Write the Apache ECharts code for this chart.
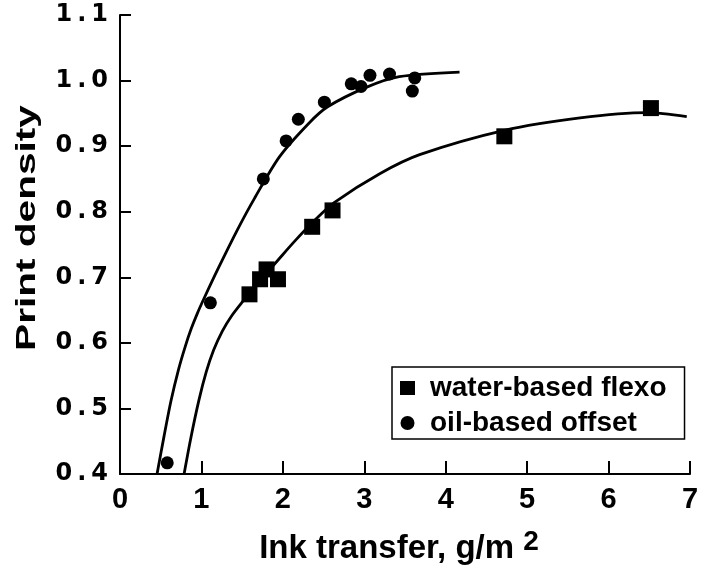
<!DOCTYPE html>
<html>
<head>
<meta charset="utf-8">
<script src="https://cdn.jsdelivr.net/npm/echarts@6/dist/echarts.min.js"></script>
<style>
html,body{margin:0;padding:0;background:#fff;}
#c{width:708px;height:568px;}
</style>
</head>
<body>
<div id="c"></div>
<script>
// Measured data points
const flexoX = [1.59, 1.72, 1.80, 1.94, 2.36, 2.61, 4.72, 6.52];
const flexoY = [0.674, 0.697, 0.712, 0.697, 0.777, 0.802, 0.915, 0.958];
const offsetX = [0.58, 1.11, 1.76, 2.04, 2.19, 2.51, 2.84, 2.96, 3.07, 3.31, 3.59, 3.62];
const offsetY = [0.417, 0.661, 0.850, 0.908, 0.941, 0.967, 0.995, 0.991, 1.008, 1.010, 0.984, 1.004];
// Fitted curves as drawn in the picture
const flexoCurveX = [0.787, 0.87, 0.97, 1.06, 1.15, 1.257, 1.37, 1.50, 1.60, 1.80, 1.96, 2.16, 2.40, 2.63, 3.19, 3.68, 4.72, 5.65, 6.47, 6.96];
const flexoCurveY = [0.400, 0.455, 0.513, 0.556, 0.589, 0.618, 0.641, 0.662, 0.677, 0.706, 0.729, 0.757, 0.788, 0.814, 0.858, 0.887, 0.924, 0.943, 0.951, 0.945];
const offsetCurveX = [0.455, 0.54, 0.627, 0.72, 0.80, 0.873, 0.95, 1.033, 1.20, 1.44, 1.65, 1.96, 2.32, 2.55, 3.03, 3.43, 4.17];
const offsetCurveY = [0.400, 0.457, 0.512, 0.560, 0.594, 0.621, 0.645, 0.668, 0.712, 0.772, 0.820, 0.884, 0.935, 0.960, 0.990, 1.006, 1.013];
const seriesNames = ['water-based flexo', 'oil-based offset'];
const xTitle = 'Ink transfer, g/m ';
const xTitleSup = '2';
const yTitle = 'Print density';

const zip = (a, b) => a.map((v, i) => [v, b[i]]);
const FONT = '"Liberation Sans", Arial, sans-serif';
const WIDE = '"DejaVu Sans", sans-serif';

const chart = echarts.init(document.getElementById('c'), null, {renderer: 'canvas'});
chart.setOption({
  animation: false,
  backgroundColor: '#fff',
  grid: {left: 120, right: 18, top: 15, bottom: 94, containLabel: false, outerBoundsMode: 'none'},
  graphic: [{
    type: 'text', x: 27, y: 228, rotation: Math.PI / 2, scaleX: 1.45, scaleY: 1,
    style: {text: yTitle, fill: '#000', font: 'bold 28px "Liberation Sans", Arial, sans-serif',
      align: 'center', verticalAlign: 'middle'}
  }],
  xAxis: {
    type: 'value', min: 0, max: 7, interval: 1,
    name: '{a|' + xTitle + '}{s|' + xTitleSup + '}',
    nameLocation: 'middle', nameGap: 54,
    nameTextStyle: {
      padding: [0, 12, 0, 0],
      rich: {
        a: {fontFamily: FONT, fontWeight: 'bold', fontSize: 33, color: '#000'},
        s: {fontFamily: FONT, fontWeight: 'bold', fontSize: 28, color: '#000', verticalAlign: 'bottom', padding: [0,0,14,0]}
      }
    },
    axisLine: {lineStyle: {color: '#000', width: 2}},
    axisTick: {inside: true, length: 13, lineStyle: {color: '#000', width: 2}},
    axisLabel: {fontFamily: FONT, fontWeight: 'bold', fontSize: 29, color: '#000', margin: 11},
    splitLine: {show: false}
  },
  yAxis: {
    type: 'value', min: 0.4, max: 1.1, interval: 0.1,
    axisLine: {lineStyle: {color: '#000', width: 2}},
    axisTick: {inside: true, length: 11, lineStyle: {color: '#000', width: 2}},
    axisLabel: {
      margin: 10,
      formatter: v => v.toFixed(1).split('').map(c => c === '.' ? '{p|.}' : '{d|' + c + '}').join(''),
      rich: {
        d: {fontFamily: WIDE, fontWeight: 'bold', fontSize: 24, color: '#000', padding: [0, 2, 0, 2]},
        p: {fontFamily: WIDE, fontWeight: 'bold', fontSize: 24, color: '#000', padding: [0, 3, 0, 3]}
      }
    },
    splitLine: {show: false}
  },
  legend: {
    data: [
      {name: seriesNames[0], icon: 'rect'},
      {name: seriesNames[1], icon: 'circle'}
    ],
    orient: 'vertical', left: 392, top: 367,
    itemWidth: 15, itemHeight: 14, itemGap: 7,
    padding: [7, 18, 2, 8],
    borderColor: '#000', borderWidth: 1.5, borderRadius: 0,
    formatter: n => '{t|' + n + '}',
    textStyle: {
      rich: {t: {fontFamily: FONT, fontWeight: 'bold', fontSize: 28, color: '#000', padding: [0, 0, 0, 10]}}
    }
  },
  series: [
    {type: 'line', data: zip(flexoCurveX, flexoCurveY), smooth: 0.3, showSymbol: false,
      lineStyle: {color: '#000', width: 2.8}, silent: true, z: 2},
    {type: 'line', data: zip(offsetCurveX, offsetCurveY), smooth: 0.3, showSymbol: false,
      lineStyle: {color: '#000', width: 2.8}, silent: true, z: 2},
    {name: seriesNames[0], type: 'scatter', data: zip(flexoX, flexoY), symbol: 'rect', symbolSize: 16,
      itemStyle: {color: '#000', opacity: 1}, z: 3},
    {name: seriesNames[1], type: 'scatter', data: zip(offsetX, offsetY), symbol: 'circle', symbolSize: 13,
      itemStyle: {color: '#000', opacity: 1}, z: 3}
  ]
});
</script>
</body>
</html>
